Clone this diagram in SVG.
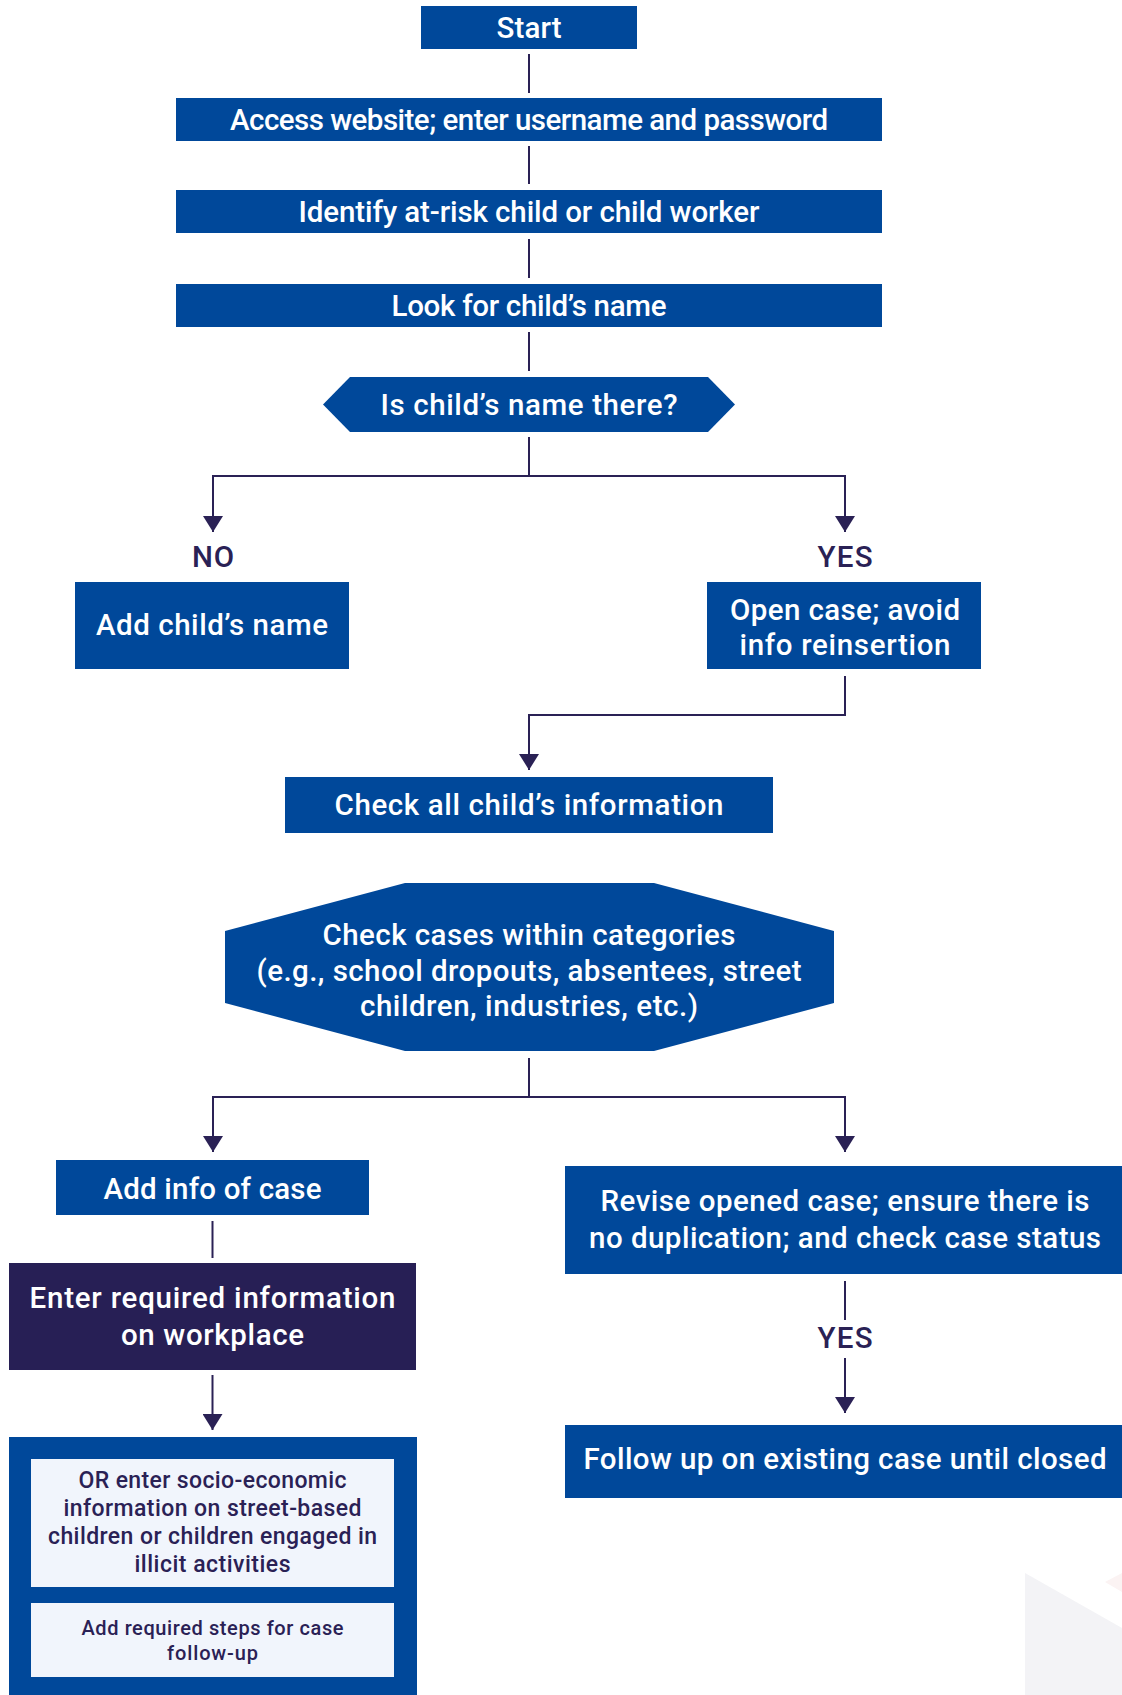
<svg xmlns="http://www.w3.org/2000/svg" width="1122" height="1695" viewBox="0 0 1122 1695">
<defs>
<style>
.box{fill:#00489a}
.dark{fill:#271f55}
.light{fill:#f1f5fc}
.t{font-family:Roboto,"Noto Sans",sans-serif;font-weight:500;font-size:29.5px;fill:#ffffff;text-anchor:middle}
.lbl{font-family:Roboto,"Noto Sans",sans-serif;font-weight:500;font-size:29.5px;fill:#2a2155;text-anchor:middle}
.s1{font-family:Roboto,"Noto Sans",sans-serif;font-weight:500;font-size:23px;fill:#2a2155;text-anchor:middle}
.s2{font-family:Roboto,"Noto Sans",sans-serif;font-weight:500;font-size:20px;fill:#2a2155;text-anchor:middle}
.c{fill:none;stroke:#2a2155;stroke-width:2}
</style>
<marker id="ah" viewBox="0 0 16 20" refX="16" refY="10" markerWidth="16" markerHeight="20" markerUnits="userSpaceOnUse" orient="auto">
<path d="M0,0 L16,10 L0,20 z" fill="#2a2155"/>
</marker>
</defs>
<rect width="1122" height="1695" fill="#ffffff"/>
<g id="watermark">
<polygon points="1025,1573 1122,1628 1122,1695 1025,1695" fill="#f3f3f6"/>
<polygon points="1105,1582 1122,1573 1122,1592" fill="#fbf3f3"/>
</g>
<g id="connectors">
<line class="c" x1="529" y1="54" x2="529" y2="93"/>
<line class="c" x1="529" y1="146" x2="529" y2="184"/>
<line class="c" x1="529" y1="239" x2="529" y2="278"/>
<line class="c" x1="529" y1="332" x2="529" y2="371"/>
<polyline class="c" points="529,437 529,476"/>
<polyline class="c" points="213,532 213,476 845,476 845,532" marker-end="url(#ah)"/>
<line class="c" x1="213" y1="476" x2="213" y2="532" marker-end="url(#ah)"/>
<polyline class="c" points="845,676 845,715 529,715 529,770" marker-end="url(#ah)"/>
<line class="c" x1="529" y1="1058" x2="529" y2="1097"/>
<polyline class="c" points="213,1152 213,1097 845,1097 845,1152" marker-end="url(#ah)"/>
<line class="c" x1="213" y1="1097" x2="213" y2="1152" marker-end="url(#ah)"/>
<line class="c" x1="212.5" y1="1221" x2="212.5" y2="1258"/>
<line class="c" x1="212.5" y1="1375" x2="212.5" y2="1430" marker-end="url(#ah)"/>
<line class="c" x1="845" y1="1281" x2="845" y2="1320"/>
<line class="c" x1="845" y1="1358" x2="845" y2="1413" marker-end="url(#ah)"/>
<text class="lbl" x="213" y="567" textLength="42">NO</text>
<text class="lbl" x="845" y="567" textLength="55">YES</text>
<text class="lbl" x="845" y="1348" textLength="55">YES</text>
</g>
<g id="start">
<rect class="box" x="421" y="6" width="216" height="43"/>
<text class="t" x="529" y="38" textLength="65">Start</text>
</g>
<g id="access">
<rect class="box" x="176" y="98" width="706" height="43"/>
<text class="t" x="529" y="130" textLength="598">Access website; enter username and password</text>
</g>
<g id="identify">
<rect class="box" x="176" y="190" width="706" height="43"/>
<text class="t" x="529" y="222" textLength="461">Identify at-risk child or child worker</text>
</g>
<g id="look">
<rect class="box" x="176" y="284" width="706" height="43"/>
<text class="t" x="529" y="316" textLength="275">Look for child’s name</text>
</g>
<g id="decision">
<polygon class="box" points="323,404.5 350,377 708,377 735,404.5 708,432 350,432"/>
<text class="t" x="529" y="415" textLength="297">Is child’s name there?</text>
</g>
<g id="add-name">
<rect class="box" x="75" y="582" width="274" height="87"/>
<text class="t" x="212" y="635" textLength="232">Add child’s name</text>
</g>
<g id="open-case">
<rect class="box" x="707" y="582" width="274" height="87"/>
<text class="t" x="845" y="620" textLength="230">Open case; avoid</text>
<text class="t" x="845" y="655" textLength="211">info reinsertion</text>
</g>
<g id="check-all">
<rect class="box" x="285" y="777" width="488" height="56"/>
<text class="t" x="529" y="815" textLength="389">Check all child’s information</text>
</g>
<g id="check-cases">
<polygon class="box" points="225,931 405,883 654,883 834,931 834,1003 654,1051 405,1051 225,1003"/>
<text class="t" x="529" y="945" textLength="413">Check cases within categories</text>
<text class="t" x="529" y="981" textLength="545">(e.g., school dropouts, absentees, street</text>
<text class="t" x="529" y="1016" textLength="338">children, industries, etc.)</text>
</g>
<g id="add-info">
<rect class="box" x="56" y="1160" width="313" height="55"/>
<text class="t" x="212.5" y="1199" textLength="218">Add info of case</text>
</g>
<g id="enter-workplace">
<rect class="dark" x="9" y="1263" width="407" height="107"/>
<text class="t" x="212.5" y="1308" textLength="366">Enter required information</text>
<text class="t" x="212.5" y="1345" textLength="183">on workplace</text>
</g>
<g id="socio-economic">
<rect class="box" x="9" y="1437" width="408" height="258"/>
<rect class="light" x="31" y="1459" width="363" height="128"/>
<text class="s1" x="212.5" y="1488" textLength="268">OR enter socio-economic</text>
<text class="s1" x="212.5" y="1516" textLength="298">information on street-based</text>
<text class="s1" x="212.5" y="1544" textLength="329">children or children engaged in</text>
<text class="s1" x="212.5" y="1572" textLength="156">illicit activities</text>
<rect class="light" x="31" y="1603" width="363" height="74"/>
<text class="s2" x="212.5" y="1635" textLength="262">Add required steps for case</text>
<text class="s2" x="212.5" y="1660" textLength="91">follow-up</text>
</g>
<g id="revise">
<rect class="box" x="565" y="1166" width="557" height="108"/>
<text class="t" x="845" y="1211" textLength="489">Revise opened case; ensure there is</text>
<text class="t" x="845" y="1248" textLength="512">no duplication; and check case status</text>
</g>
<g id="follow-up">
<rect class="box" x="565" y="1425" width="557" height="73"/>
<text class="t" x="845" y="1469" textLength="523">Follow up on existing case until closed</text>
</g>
</svg>
